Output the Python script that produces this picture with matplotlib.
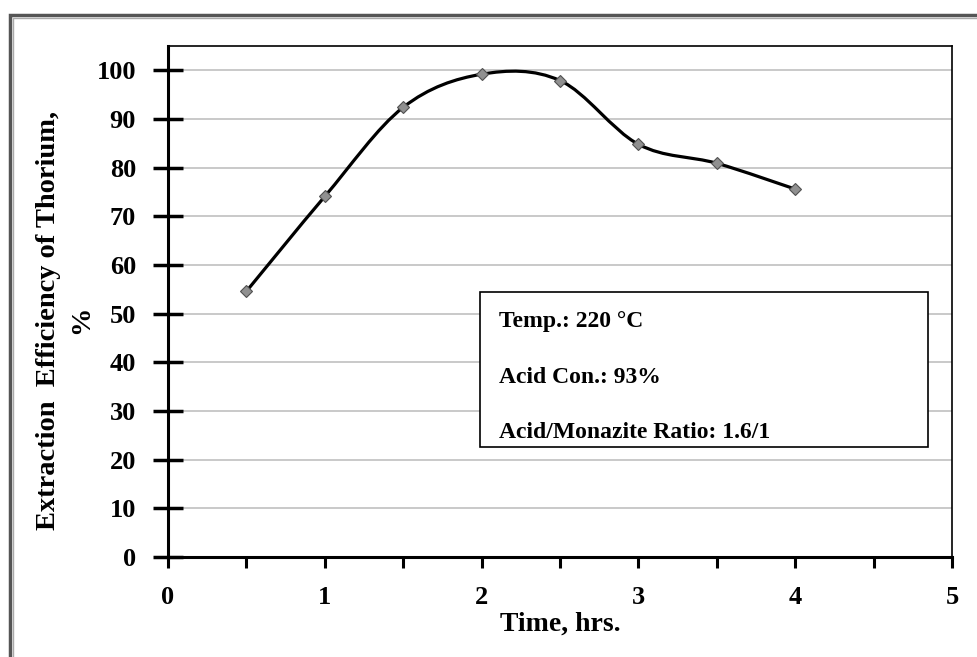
import matplotlib
matplotlib.use("Agg")
import matplotlib.pyplot as plt
from matplotlib.path import Path
from matplotlib.patches import PathPatch, Rectangle
import numpy as np

# data
time_hrs = [0.5, 1.0, 1.5, 2.0, 2.5, 3.0, 3.5, 4.0]
efficiency = [54.6, 74.1, 92.4, 99.2, 97.9, 84.8, 80.9, 75.6]
y_ticks = [0, 10, 20, 30, 40, 50, 60, 70, 80, 90, 100]
x_ticks = [0, 1, 2, 3, 4, 5]
box_lines = ["Temp.: 220 \u00b0C", "Acid Con.: 93%", "Acid/Monazite Ratio: 1.6/1"]

plt.rcParams['font.family'] = ['Liberation Serif', 'DejaVu Serif']
plt.rcParams['font.weight'] = 'bold'


def smooth_path(xs, ys):
    """Excel-like smoothed line as cubic bezier path."""
    pts = np.column_stack([xs, ys])
    n = len(pts)
    verts = [pts[0]]
    codes = [Path.MOVETO]
    for i in range(n - 1):
        p0 = pts[max(i - 1, 0)]
        p1 = pts[i]
        p2 = pts[i + 1]
        p3 = pts[min(i + 2, n - 1)]
        c1 = p1 + (p2 - p0) / 6.0
        c2 = p2 - (p3 - p1) / 6.0
        verts += [c1, c2, p2]
        codes += [Path.CURVE4] * 3
    return Path(verts, codes)


fig = plt.figure(figsize=(9.77, 6.57), dpi=100)
ax = fig.add_axes([0.172, 0.1522, 0.8024, 0.7778])

# outer frame of the picture
fig.patches.append(Rectangle((10 / 977, -0.05), 1.0, (657 - 15) / 657 + 0.05,
                             transform=fig.transFigure, fill=False,
                             edgecolor='#555555', linewidth=2.5))
fig.patches.append(Rectangle((13 / 977, -0.05), 1.0, (657 - 18) / 657 + 0.05,
                             transform=fig.transFigure, fill=False,
                             edgecolor='#aaaaaa', linewidth=1.0))

ax.set_xlim(0, 5)
ax.set_ylim(0, 105)

for yv in y_ticks[1:]:
    ax.axhline(yv, color='#c0c0c0', linewidth=1.2, zorder=1)

ax.add_patch(PathPatch(smooth_path(time_hrs, efficiency), fill=False,
                       edgecolor='black', linewidth=2.3, zorder=3))
ax.plot(time_hrs, efficiency, linestyle='none', marker='D', markersize=6.5,
        markerfacecolor='#909090', markeredgecolor='#505050',
        markeredgewidth=0.8, zorder=4)

ax.spines['left'].set_linewidth(2.2)
ax.spines['bottom'].set_linewidth(2.2)
ax.spines['top'].set_linewidth(1.2)
ax.spines['right'].set_linewidth(1.2)

ax.set_yticks(y_ticks)
ax.set_xticks(x_ticks)
ax.set_xticks(np.arange(0.5, 5, 1.0), minor=True)
ax.tick_params(axis='y', direction='inout', length=22, width=2.5,
               labelsize=19, pad=12)
ax.tick_params(axis='x', which='both', direction='out', length=8, width=2.2,
               labelsize=19, pad=13)

ax.set_xlabel("Time, hrs.", fontsize=20, fontweight='bold', labelpad=2)
fig.text(65 / 977, 1 - 320 / 657, "Extraction  Efficiency of Thorium,\n%",
         rotation=90, ha='center', va='center', multialignment='center',
         fontsize=20.5, fontweight='bold', linespacing=1.45)

# condition box
ax.add_patch(Rectangle((1.99, 22.6), 2.86, 31.8, facecolor='white',
                       edgecolor='black', linewidth=1.2, zorder=5))
for txt, yv in zip(box_lines, [48.3, 36.8, 25.5]):
    ax.text(2.11, yv, txt, fontsize=17, fontweight='bold', va='center',
            ha='left', zorder=6)

fig.savefig("out.png", dpi=100)
